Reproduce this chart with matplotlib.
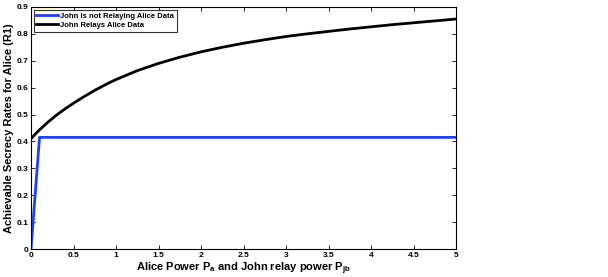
import numpy as np
import matplotlib
matplotlib.use("Agg")
import matplotlib.pyplot as plt

plt.rcParams['font.family'] = ['Liberation Sans', 'DejaVu Sans']
plt.rcParams['font.weight'] = 'bold'
plt.rcParams['mathtext.fontset'] = 'custom'
plt.rcParams['mathtext.rm'] = 'Liberation Sans:bold'
plt.rcParams['mathtext.it'] = 'Liberation Sans:bold'
plt.rcParams['mathtext.bf'] = 'Liberation Sans:bold'

# no relaying: rate jumps up then stays flat
power_norelay = [0, 0.1, 5]
rate_norelay = [0, 0.415, 0.415]

# relaying
power_relay = [0, 0.05, 0.1, 0.2, 0.3, 0.4, 0.5, 0.6, 0.75, 0.9, 1.0,
               1.25, 1.5, 1.75, 2.0, 2.25, 2.5, 2.75, 3.0, 3.25, 3.5,
               3.75, 4.0, 4.25, 4.5, 4.75, 5.0]
rate_relay = [0.410, 0.427, 0.443, 0.472, 0.498, 0.521, 0.542, 0.562,
              0.590, 0.615, 0.630, 0.663, 0.690, 0.713, 0.733, 0.750,
              0.765, 0.778, 0.790, 0.800, 0.809, 0.818, 0.826, 0.834,
              0.841, 0.848, 0.855]

fig = plt.figure(figsize=(6.08, 2.77), dpi=100)
ax = fig.add_axes([0.051, 0.101, 0.699, 0.874])

ax.plot(power_norelay, rate_norelay, color='#1f3fff', lw=2.0,
        label='John is not Relaying Alice Data')
ax.plot(power_relay, rate_relay, color='black', lw=2.0,
        label='John Relays Alice Data')

ax.set_xlim(0, 5)
ax.set_ylim(0, 0.9)
ax.set_xticks(np.arange(0, 5.01, 0.5))
ax.set_xticklabels(['0', '0.5', '1', '1.5', '2', '2.5', '3', '3.5', '4', '4.5', '5'])
ax.set_yticks(np.arange(0, 0.91, 0.1))
ax.set_yticklabels(['0', '0.1', '0.2', '0.3', '0.4', '0.5', '0.6', '0.7', '0.8', '0.9'])
ax.tick_params(direction='in', top=True, right=True, labelsize=6, length=3,
               width=0.6, pad=2)
for s in ax.spines.values():
    s.set_linewidth(0.8)

ax.set_xlabel('Alice Power P$_{a}$ and John relay power P$_{jb}$',
              fontsize=8, fontweight='bold', labelpad=1)
ax.set_ylabel('Achievable Secrecy Rates for Alice (R1)', fontsize=8,
              fontweight='bold', labelpad=2)

leg = ax.legend(loc='upper left', fontsize=5.5, frameon=True, fancybox=False,
                borderaxespad=0.35, handlelength=2.8, handletextpad=0.3,
                borderpad=0.35, labelspacing=0.25)
leg.get_frame().set_edgecolor('black')
leg.get_frame().set_linewidth(0.8)

fig.savefig('out.png', dpi=100)
